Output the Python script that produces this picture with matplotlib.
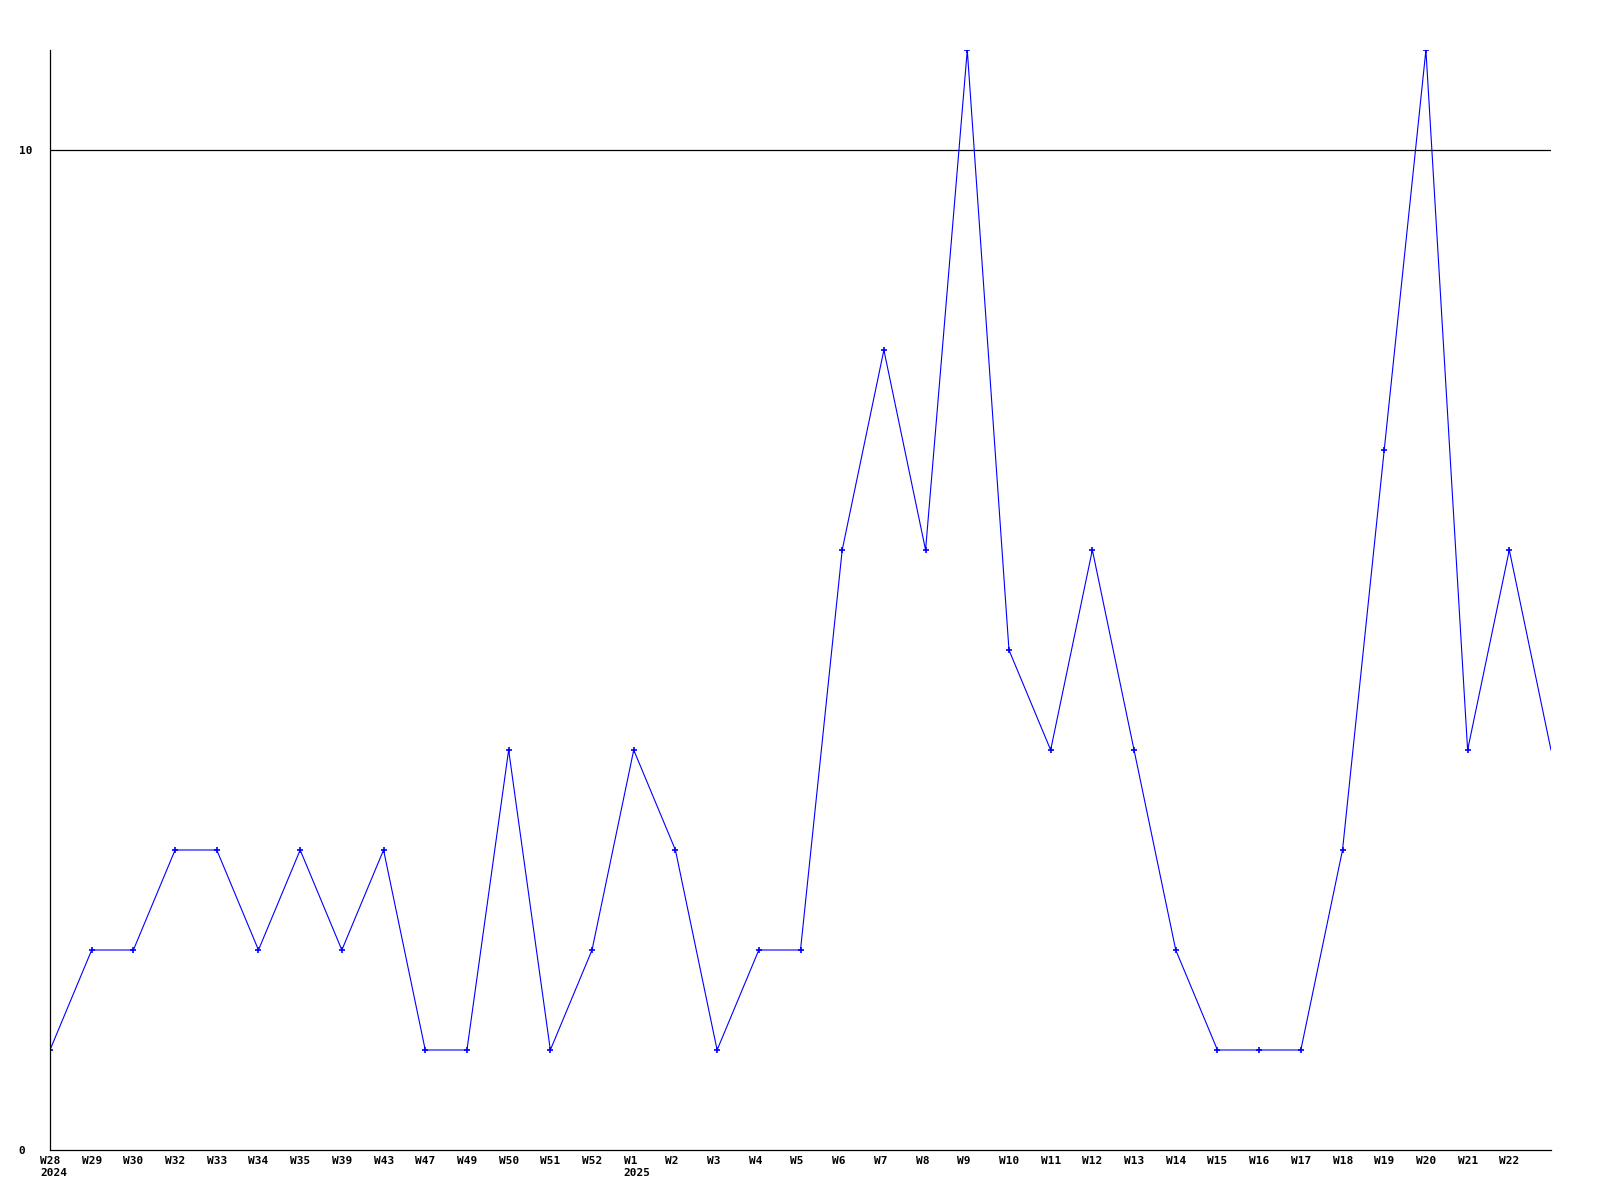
import matplotlib
matplotlib.use('Agg')
import matplotlib.pyplot as plt
import matplotlib.transforms as mtransforms

# weekly counts, last point at the right edge has no label
week_labels = ['W28', 'W29', 'W30', 'W32', 'W33', 'W34', 'W35', 'W39', 'W43',
               'W47', 'W49', 'W50', 'W51', 'W52', 'W1', 'W2', 'W3', 'W4', 'W5',
               'W6', 'W7', 'W8', 'W9', 'W10', 'W11', 'W12', 'W13', 'W14', 'W15',
               'W16', 'W17', 'W18', 'W19', 'W20', 'W21', 'W22', '']
counts = [1, 2, 2, 3, 3, 2, 3, 2, 3, 1, 1, 4, 1, 2, 4, 3, 1, 2, 2,
          6, 8, 6, 11, 5, 4, 6, 4, 2, 1, 1, 1, 3, 7, 11, 4, 6, 4]
year_marks = {0: '2024', 14: '2025'}
y_ticks = [0, 10]

fig = plt.figure(figsize=(16, 12), dpi=100)
ax = fig.add_axes([50 / 1600, 50 / 1200, 1501 / 1600, 1100 / 1200])

x = list(range(len(counts)))
ax.plot(x, counts, color='#0000ff', linewidth=0.8, marker='+',
        markersize=4, markeredgewidth=1.2,
        markevery=list(range(len(counts) - 1)))
ax.axhline(10, color='black', linewidth=0.9, zorder=0)

ax.set_xlim(0, len(counts) - 1)
ax.set_ylim(0, max(counts))

for s in ['top', 'right']:
    ax.spines[s].set_visible(False)
for s in ['left', 'bottom']:
    ax.spines[s].set_linewidth(0.9)

font = dict(family='DejaVu Sans Mono', fontweight='bold', fontsize=8)

ax.set_yticks(y_ticks)
ax.set_yticklabels([str(v) for v in y_ticks], ha='left', **font)
ax.tick_params(axis='y', length=0, pad=22.5)

ax.set_xticks([])
offset = mtransforms.ScaledTranslation(-10 / 100, -6 / 100, fig.dpi_scale_trans)
trans = mtransforms.blended_transform_factory(ax.transData, ax.transAxes) + offset
for i, lab in enumerate(week_labels):
    if not lab:
        continue
    txt = lab
    if i in year_marks:
        txt = lab + '\n' + year_marks[i]
    ax.text(i, 0, txt, transform=trans, ha='left', va='top',
            linespacing=1.3, **font)

fig.savefig('out.png', dpi=100)
